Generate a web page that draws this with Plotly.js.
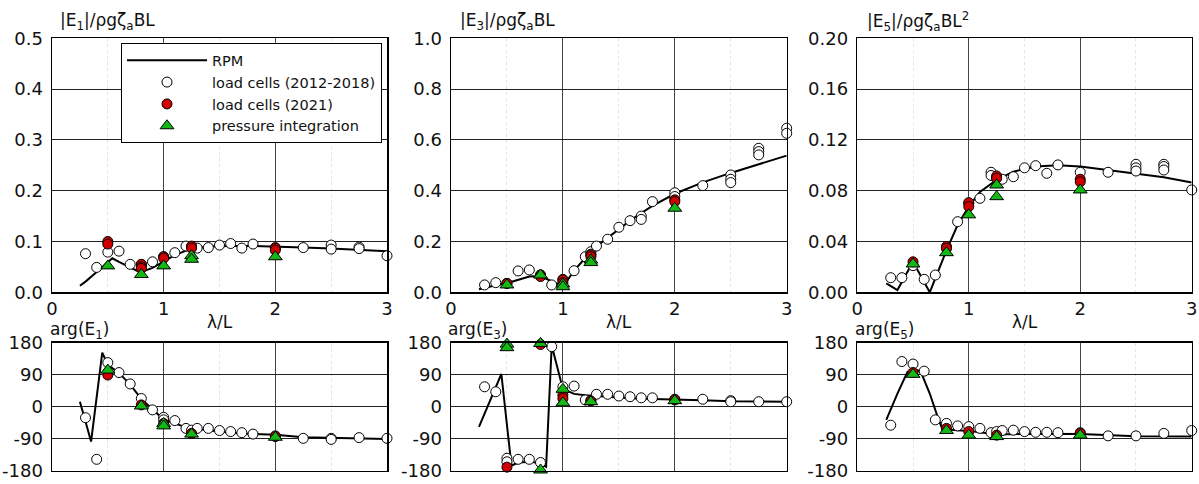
<!DOCTYPE html>
<html>
<head>
<meta charset="utf-8">
<script src="https://cdn.plot.ly/plotly-3.0.1.min.js"></script>
<style>
  html, body { margin: 0; padding: 0; background: #fff; }
  #chart { width: 1199px; height: 484px; }
</style>
</head>
<body>
<div id="chart"></div>
<script>
// ---- Surge force amplitude |E1| ----
const rpmLamE1 = [0.25, 0.3, 0.4, 0.5, 0.54, 0.6, 0.7, 0.79, 0.9, 1.0, 1.1, 1.2, 1.3, 1.4, 1.5, 1.6, 1.8, 2.0, 2.25, 2.5, 2.75, 3.0];
const rpmE1 = [0.013, 0.021, 0.040, 0.060, 0.067, 0.060, 0.049, 0.039, 0.048, 0.061, 0.073, 0.082, 0.087, 0.090, 0.091, 0.091, 0.091, 0.090, 0.088, 0.086, 0.084, 0.081];
const oldLamE1 = [0.3, 0.4, 0.5, 0.6, 0.7, 0.8, 0.9, 1.0, 1.1, 1.2, 1.25, 1.3, 1.4, 1.5, 1.6, 1.7, 1.8, 2.0, 2.25, 2.5, 2.5, 2.75, 2.75, 3.0];
const oldE1 = [0.076, 0.049, 0.079, 0.081, 0.055, 0.055, 0.060, 0.070, 0.078, 0.091, 0.090, 0.087, 0.088, 0.093, 0.096, 0.087, 0.095, 0.088, 0.088, 0.093, 0.085, 0.089, 0.086, 0.072];
const newLamE1 = [0.5, 0.5, 0.8, 0.8, 0.8, 1.0, 1.0, 1.25, 1.25, 2.0, 2.0];
const newE1 = [0.100, 0.095, 0.055, 0.050, 0.047, 0.070, 0.067, 0.091, 0.087, 0.087, 0.083];
const piLamE1 = [0.5, 0.8, 1.0, 1.25, 1.25, 2.0];
const piE1 = [0.052, 0.035, 0.052, 0.072, 0.065, 0.070];

// ---- Heave force amplitude |E3| ----
const rpmLamE3 = [0.25, 0.3, 0.4, 0.5, 0.6, 0.7, 0.8, 0.9, 1.0, 1.1, 1.2, 1.3, 1.4, 1.5, 1.6, 1.7, 1.8, 2.0, 2.25, 2.5, 2.75, 3.0];
const rpmE3 = [0.012, 0.018, 0.028, 0.036, 0.050, 0.062, 0.064, 0.042, 0.022, 0.085, 0.135, 0.180, 0.215, 0.250, 0.282, 0.312, 0.340, 0.388, 0.433, 0.470, 0.505, 0.538];
const oldLamE3 = [0.3, 0.4, 0.5, 0.6, 0.7, 0.8, 0.9, 1.0, 1.1, 1.2, 1.25, 1.25, 1.3, 1.4, 1.5, 1.6, 1.7, 1.7, 1.8, 2.0, 2.0, 2.25, 2.5, 2.5, 2.5, 2.75, 2.75, 2.75, 3.0, 3.0];
const oldE3 = [0.029, 0.038, 0.035, 0.084, 0.088, 0.068, 0.029, 0.051, 0.085, 0.140, 0.160, 0.150, 0.182, 0.209, 0.256, 0.282, 0.300, 0.287, 0.357, 0.392, 0.377, 0.420, 0.462, 0.445, 0.432, 0.567, 0.554, 0.541, 0.646, 0.626];
const newLamE3 = [0.5, 0.8, 0.8, 1.0, 1.0, 1.25, 1.25, 2.0, 2.0];
const newE3 = [0.035, 0.068, 0.062, 0.049, 0.038, 0.147, 0.140, 0.364, 0.357];
const piLamE3 = [0.5, 0.8, 1.0, 1.0, 1.25, 1.25, 2.0];
const piE3 = [0.029, 0.068, 0.033, 0.022, 0.127, 0.117, 0.331];

// ---- Pitch moment amplitude |E5| ----
const rpmLamE5 = [0.26, 0.36, 0.5, 0.65, 0.8, 0.9, 1.0, 1.1, 1.25, 1.4, 1.6, 1.8, 2.0, 2.25, 2.5, 2.75, 3.0];
const rpmE5 = [0.0071, 0.0018, 0.024, 0.0, 0.033, 0.053, 0.0675, 0.079, 0.0885, 0.095, 0.099, 0.100, 0.099, 0.0963, 0.0937, 0.0906, 0.0864];
const oldLamE5 = [0.3, 0.4, 0.5, 0.6, 0.7, 0.8, 0.9, 1.0, 1.1, 1.2, 1.2, 1.25, 1.3, 1.4, 1.5, 1.6, 1.7, 1.8, 2.0, 2.25, 2.5, 2.5, 2.5, 2.75, 2.75, 2.75, 3.0];
const oldE5 = [0.0115, 0.0115, 0.021, 0.0102, 0.0136, 0.035, 0.0556, 0.070, 0.074, 0.0945, 0.092, 0.090, 0.089, 0.091, 0.098, 0.0997, 0.0937, 0.1003, 0.0945, 0.0945, 0.1008, 0.098, 0.0955, 0.1008, 0.099, 0.0963, 0.0806];
const newLamE5 = [0.5, 0.8, 0.8, 1.0, 1.0, 1.25, 1.25, 2.0, 2.0];
const newE5 = [0.024, 0.036, 0.0346, 0.0706, 0.0675, 0.0916, 0.0898, 0.089, 0.087];
const piLamE5 = [0.5, 0.8, 1.0, 1.25, 1.25, 2.0];
const piE5 = [0.0223, 0.0312, 0.061, 0.0845, 0.0753, 0.0806];

// ---- Phase angles (deg) ----
const rpmLamP1 = [0.25, 0.35, 0.45, 0.5, 0.6, 0.7, 0.8, 0.9, 1.0, 1.1, 1.2, 1.3, 1.4, 1.5, 1.6, 1.8, 2.0, 2.25, 2.5, 2.75, 3.0];
const rpmP1 = [14, -98, 152, 118, 95, 62, 22, -8, -36, -47, -58, -63, -67, -70, -73, -77, -79, -86, -88, -89, -91];
const oldLamP1 = [0.3, 0.4, 0.5, 0.6, 0.7, 0.8, 0.9, 1.0, 1.0, 1.1, 1.2, 1.25, 1.3, 1.4, 1.5, 1.6, 1.7, 1.8, 2.0, 2.25, 2.5, 2.5, 2.75, 3.0];
const oldP1 = [-31, -148, 124, 96, 64, 23, -9, -30, -37, -39, -61, -66, -61, -61, -67, -70, -73, -77, -82, -89, -89, -92, -87, -89];
const newLamP1 = [0.5, 0.8, 1.0, 1.25, 2.0];
const newP1 = [89, 5, -47, -75, -84];
const piLamP1 = [0.5, 0.8, 1.0, 1.0, 1.25, 2.0];
const piP1 = [103, 2, -47, -54, -77, -86];

const rpmLamP3 = [0.25, 0.45, 0.54, 0.6, 0.72, 0.8, 0.85, 0.9, 1.0, 1.1, 1.2, 1.4, 1.6, 1.8, 2.0, 2.25, 2.5, 2.75, 3.0];
const rpmP3 = [-57, 92, -166, -157, -155, -160, -169, 172, 50, 36, 32, 27, 24, 22, 21, 18, 15, 14, 14];
const oldLamP3 = [0.3, 0.4, 0.5, 0.5, 0.6, 0.7, 0.8, 0.9, 1.0, 1.1, 1.2, 1.25, 1.3, 1.4, 1.5, 1.6, 1.7, 1.8, 2.0, 2.25, 2.5, 2.5, 2.75, 3.0];
const oldP3 = [56, 42, -145, -155, -148, -148, -157, 169, 56, 58, 19, 18, 35, 35, 30, 28, 25, 25, 21, 21, 17, 14, 14, 14];
const newLamP3 = [0.5, 0.8, 1.0, 1.0, 1.25, 2.0];
const newP3 = [-170, 175, 33, 23, 16, 19];
const piLamP3 = [0.5, 0.5, 0.8, 0.8, 1.0, 1.0, 1.25, 2.0];
const piP3 = [176, 166, 178, -178, 49, 11, 14, 17];

const rpmLamP5 = [0.26, 0.36, 0.45, 0.5, 0.57, 0.65, 0.72, 0.76, 0.8, 1.0, 1.25, 1.5, 2.0, 2.5, 3.0];
const rpmP5 = [-37, 37, 98, 108, 98, 37, -28, -61, -64, -68, -78, -76, -77, -83, -84];
const oldLamP5 = [0.3, 0.4, 0.5, 0.6, 0.7, 0.8, 0.9, 1.0, 1.1, 1.2, 1.25, 1.3, 1.4, 1.5, 1.6, 1.7, 1.8, 2.0, 2.25, 2.5, 2.75, 3.0];
const oldP5 = [-52, 127, 120, 100, -37, -47, -54, -56, -61, -73, -70, -67, -66, -70, -72, -72, -73, -73, -82, -82, -75, -67];
const newLamP5 = [0.5, 0.8, 1.0, 1.25, 2.0];
const newP5 = [96, -61, -70, -80, -75];
const piLamP5 = [0.5, 0.8, 1.0, 1.25, 2.0];
const piP5 = [91, -67, -80, -84, -80];

// ---- tick labels ----
const xTicks = [0, 1, 2, 3];
const yTicksE1 = [0, 0.1, 0.2, 0.3, 0.4, 0.5];
const yTicksE3 = [0, 0.2, 0.4, 0.6, 0.8, 1.0];
const yTicksE5 = [0, 0.04, 0.08, 0.12, 0.16, 0.20];
const yTicksPhase = [-180, -90, 0, 90, 180];

const FONT = 'DejaVu Sans, Arial, sans-serif';
const RED = '#d10000';
const GREEN = '#14b814';

function panel(xa, ya, rx, ry, ox, oy, nx, ny, px, py, inLegend) {
  const common = { xaxis: xa, yaxis: ya, type: 'scatter', showlegend: inLegend, cliponaxis: false, hoverinfo: 'skip' };
  return [
    Object.assign({}, common, { x: rx, y: ry, mode: 'lines', name: 'RPM', line: { color: '#000', width: 2 } }),
    Object.assign({}, common, { x: ox, y: oy, mode: 'markers', name: 'load cells (2012-2018)',
      marker: { symbol: 'circle', size: 10, color: '#fff', line: { color: '#000', width: 1 } } }),
    Object.assign({}, common, { x: nx, y: ny, mode: 'markers', name: 'load cells (2021)',
      marker: { symbol: 'circle', size: 10, color: RED, line: { color: '#000', width: 1 } } }),
    Object.assign({}, common, { x: px, y: py, mode: 'markers', name: 'pressure integration',
      marker: { symbol: 'triangle-up', size: 12, color: GREEN, line: { color: '#000', width: 1 } } })
  ];
}

const data = [].concat(
  panel('x', 'y', rpmLamE1, rpmE1, oldLamE1, oldE1, newLamE1, newE1, piLamE1, piE1, true),
  panel('x2', 'y2', rpmLamE3, rpmE3, oldLamE3, oldE3, newLamE3, newE3, piLamE3, piE3, false),
  panel('x3', 'y3', rpmLamE5, rpmE5, oldLamE5, oldE5, newLamE5, newE5, piLamE5, piE5, false),
  panel('x4', 'y4', rpmLamP1, rpmP1, oldLamP1, oldP1, newLamP1, newP1, piLamP1, piP1, false),
  panel('x5', 'y5', rpmLamP3, rpmP3, oldLamP3, oldP3, newLamP3, newP3, piLamP3, piP3, false),
  panel('x6', 'y6', rpmLamP5, rpmP5, oldLamP5, oldP5, newLamP5, newP5, piLamP5, piP5, false)
);

const W = 1199, H = 484;
const colDomains = [[52 / W, 387 / W], [451 / W, 786.7 / W], [857.3 / W, 1191.7 / W]];
const topDomain = [1 - 292.3 / H, 1 - 38.3 / H];
const botDomain = [1 - 470.7 / H, 1 - 342.7 / H];

function xAxis(col, anchor, top) {
  return {
    domain: colDomains[col], anchor: anchor, range: [0, 3],
    tickvals: xTicks, ticktext: xTicks.map(String), showticklabels: top,
    ticks: '', ticklabelstandoff: 0,
    tickfont: { family: FONT, size: 18, color: '#111' },
    showline: true, mirror: true, linecolor: '#000', linewidth: 1.5,
    showgrid: true, gridcolor: '#444', gridwidth: 1, zeroline: false,
    minor: { tickvals: [0.5, 1.5, 2.5], showgrid: true, gridcolor: '#e4e4e4', griddash: 'dot', gridwidth: 1 }
  };
}
function yAxis(domain, anchor, ticks, fmt) {
  return {
    domain: domain, anchor: anchor, range: [ticks[0], ticks[ticks.length - 1]],
    tickvals: ticks, ticktext: ticks.map(fmt),
    ticks: '', ticklabelstandoff: 4,
    tickfont: { family: FONT, size: 18, color: '#111' },
    showline: true, mirror: true, linecolor: '#000', linewidth: 1.5,
    showgrid: true, gridcolor: '#222', gridwidth: 1, zeroline: false
  };
}

function label(text, xPx, yPx, anchor) {
  return { text: text, xref: 'paper', yref: 'paper', x: xPx / W, y: 1 - yPx / H,
    xanchor: anchor || 'left', yanchor: 'middle', showarrow: false,
    font: { family: FONT, size: 17, color: '#111' } };
}

const layout = {
  width: W, height: H,
  margin: { l: 0, r: 0, t: 0, b: 0 },
  paper_bgcolor: '#fff', plot_bgcolor: '#fff',
  showlegend: true,
  legend: {
    x: 121 / W, y: 1 - 43.3 / H, xanchor: 'left', yanchor: 'top',
    bgcolor: '#fff', bordercolor: '#000', borderwidth: 1,
    font: { family: FONT, size: 14.5, color: '#111' },
    itemwidth: 80, tracegroupgap: 0
  },
  xaxis: xAxis(0, 'y', true),
  xaxis2: xAxis(1, 'y2', true),
  xaxis3: xAxis(2, 'y3', true),
  xaxis4: xAxis(0, 'y4', false),
  xaxis5: xAxis(1, 'y5', false),
  xaxis6: xAxis(2, 'y6', false),
  yaxis: yAxis(topDomain, 'x', yTicksE1, v => v.toFixed(1)),
  yaxis2: yAxis(topDomain, 'x2', yTicksE3, v => v.toFixed(1)),
  yaxis3: yAxis(topDomain, 'x3', yTicksE5, v => v.toFixed(2)),
  yaxis4: yAxis(botDomain, 'x4', yTicksPhase, v => String(v)),
  yaxis5: yAxis(botDomain, 'x5', yTicksPhase, v => String(v)),
  yaxis6: yAxis(botDomain, 'x6', yTicksPhase, v => String(v)),
  annotations: [
    label('|E<sub>1</sub>|/ρgζ<sub>a</sub>BL', 58, 21),
    label('|E<sub>3</sub>|/ρgζ<sub>a</sub>BL', 458, 21),
    label('|E<sub>5</sub>|/ρgζ<sub>a</sub>BL<sup>2</sup>', 865, 21),
    label('λ/L', 219.5, 322, 'center'),
    label('λ/L', 619, 322, 'center'),
    label('λ/L', 1024.5, 322, 'center'),
    label('arg(E<sub>1</sub>)', 48, 330),
    label('arg(E<sub>3</sub>)', 446, 330),
    label('arg(E<sub>5</sub>)', 853, 330)
  ]
};

Plotly.newPlot('chart', data, layout, { staticPlot: true, displayModeBar: false });
</script>
</body>
</html>
